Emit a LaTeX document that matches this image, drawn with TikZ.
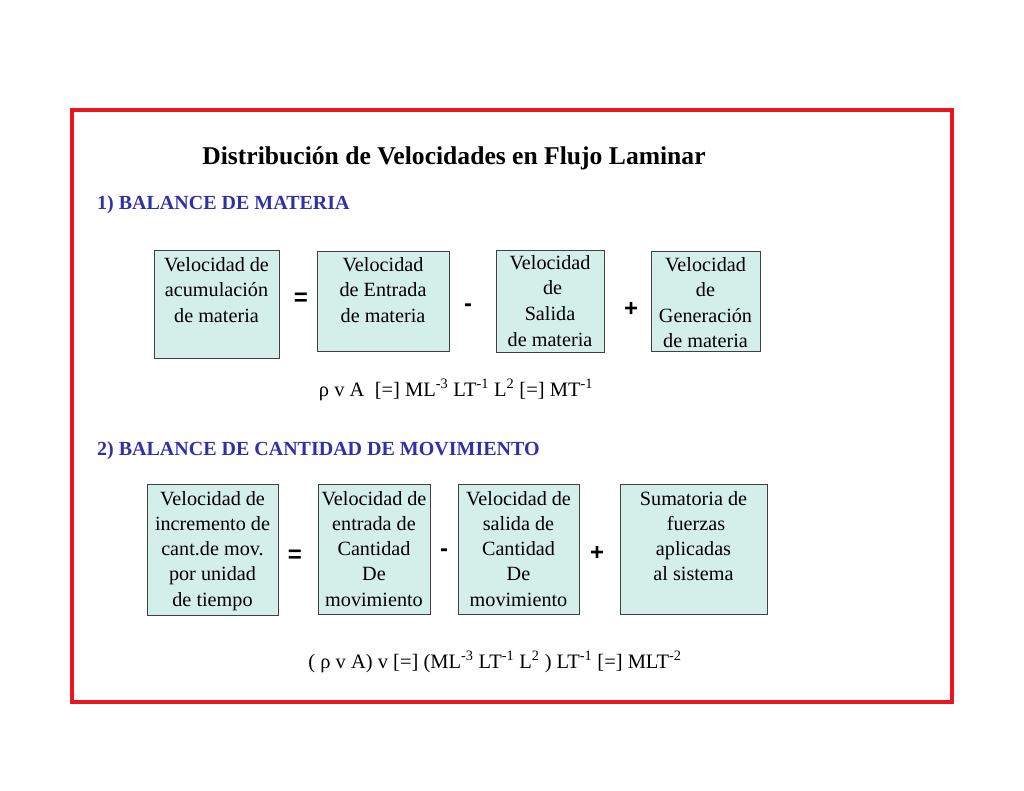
\documentclass[tikz,border=0pt]{standalone}
\usepackage{fontspec}
\setmainfont{Liberation Serif}
\newfontfamily\signfont{Liberation Sans}
\definecolor{boxfill}{RGB}{212,238,233}
\definecolor{headblue}{RGB}{48,48,170}
\definecolor{framered}{RGB}{236,20,30}
\tikzset{
  pbox/.style={draw=black!75, line width=0.9pt, fill=boxfill, inner sep=0pt},
  ptext/.style={anchor=north, align=center, inner sep=0pt, font=\fontsize{20.2}{25.2}\selectfont},
  sign/.style={inner sep=0pt, font=\signfont\bfseries\fontsize{24}{24}\selectfont},
  head/.style={anchor=west, inner sep=0pt, text=headblue, font=\bfseries\fontsize{20}{22}\selectfont},
  formula/.style={inner sep=0pt, font=\fontsize{20.5}{24}\selectfont}
}
\newcommand{\bx}[5]{% name, x1, y1, x2, y2
  \node[pbox, minimum width={#4-#2}, minimum height={#5-#3}] (#1) at ({(#2+#4)/2},{(#3+#5)/2}) {};}
\begin{document}
\begin{tikzpicture}[x=1pt,y=-1pt]
\useasboundingbox (0,0) rectangle (1024,791);
\fill[white] (0,0) rectangle (1024,791);
\node[draw=framered, line width=4.5pt, minimum width=880pt, minimum height=592pt, inner sep=0pt] (frame) at (512,406) {};

\node[inner sep=0pt, font=\bfseries\fontsize{25.6}{28}\selectfont] (title) at (454,158) {Distribución de Velocidades en Flujo Laminar};

\node[head] (h1) at (97,205) {1) BALANCE DE MATERIA};

% row 1
\bx{a1}{154}{250}{279}{358}
\bx{a2}{317}{251}{449}{351}
\bx{a3}{496}{250}{604}{352}
\bx{a4}{651}{251}{760}{351}
\node[ptext] (ta1) at ([yshift=-8pt]a1.north) {Velocidad de\\acumulación\\de materia};
\node[ptext] (ta2) at ([yshift=-7pt]a2.north) {Velocidad\\de Entrada\\de materia};
\node[ptext] (ta3) at ([yshift=-6pt]a3.north) {Velocidad\\\ de\\[0.8pt]Salida\\[0.8pt]de materia};
\node[ptext] (ta4) at ([yshift=-7pt]a4.north) {Velocidad\\de\\Generación\\de materia};
\node[sign] (s1) at (301,299) {=};
\node[sign] (s2) at (468,308) {-};
\node[sign] (s3) at (631,309) {+};

\node[formula] (f1) at (456,390) {ρ v A\ \ [=] ML\textsuperscript{-3} LT\textsuperscript{-1} L\textsuperscript{2} [=] MT\textsuperscript{-1}};

\node[head] (h2) at (97,451) {2) BALANCE DE CANTIDAD DE MOVIMIENTO};

% row 2
\bx{b1}{147}{484}{278}{615}
\bx{b2}{318}{484}{430}{614}
\bx{b3}{458}{484}{579}{614}
\bx{b4}{620}{484}{767}{614}
\node[ptext] (tb1) at ([yshift=-7.5pt]b1.north) {Velocidad de\\incremento de\\cant.de mov.\\por unidad\\de tiempo};
\node[ptext] (tb2) at ([yshift=-7.5pt]b2.north) {Velocidad de\\entrada de\\Cantidad\\De\\movimiento};
\node[ptext] (tb3) at ([yshift=-7.5pt]b3.north) {Velocidad de\\salida de\\Cantidad\\De\\movimiento};
\node[ptext] (tb4) at ([yshift=-7.5pt]b4.north) {Sumatoria de\\\ fuerzas\\aplicadas\\al sistema};
\node[sign] (s4) at (295,556) {=};
\node[sign] (s5) at (444,553) {-};
\node[sign] (s6) at (597,553) {+};

\node[formula] (f2) at (495,662) {( ρ v A) v [=] (ML\textsuperscript{-3} LT\textsuperscript{-1} L\textsuperscript{2} ) LT\textsuperscript{-1} [=] MLT\textsuperscript{-2}};
\end{tikzpicture}
\end{document}
